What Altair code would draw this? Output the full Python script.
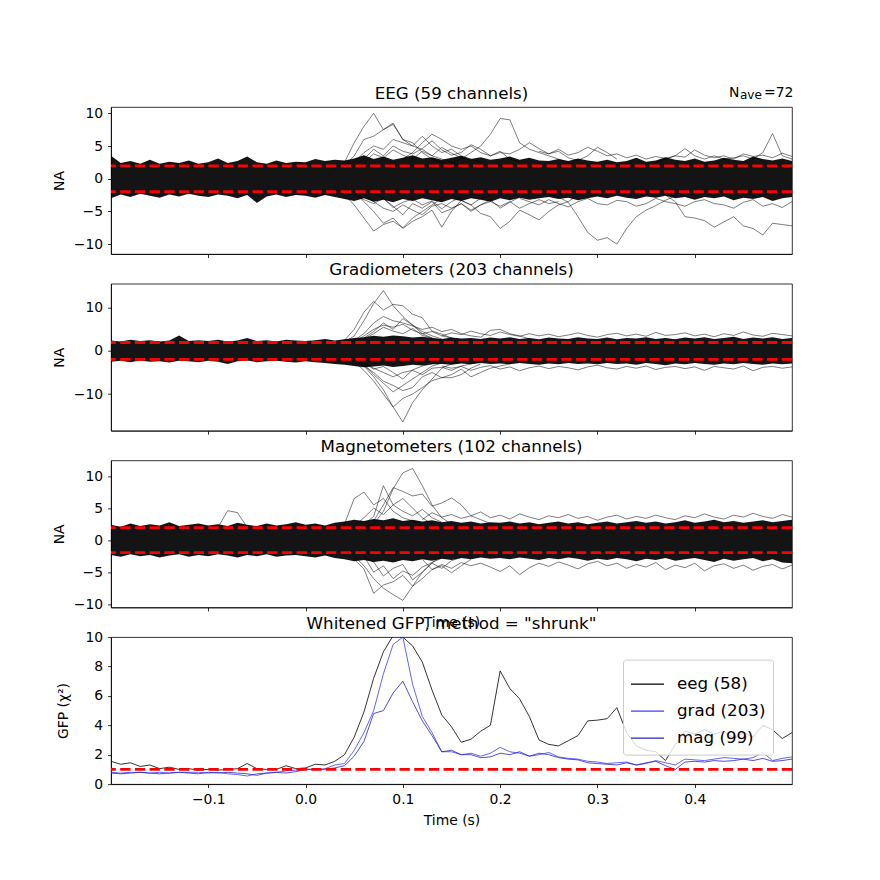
import altair as alt
import pandas as pd

# ---------------- data ----------------
TIMES = [round(-0.20 + 0.01 * i, 2) for i in range(71)]
X_TICKS = [-0.1, 0.0, 0.1, 0.2, 0.3, 0.4]
THRESH = [1.96, -1.96]

# dense core of the channel traces (upper / lower extent per time sample)
EEG_HI = [3.5, 2.4, 2.7, 2.3, 2.9, 2.3, 2.6, 2.4, 2.8, 2.3,
          2.5, 3.1, 2.4, 2.7, 3.4, 2.5, 2.3, 2.8, 2.4, 2.6,
          2.5, 3.0, 2.7, 2.9, 2.8, 3.1, 3.6, 3.0, 3.4, 2.9,
          3.2, 3.6, 3.1, 3.3, 2.9, 3.2, 3.5, 3.0, 3.3, 2.9,
          3.1, 3.4, 2.9, 3.2, 2.8, 2.7, 3.0, 2.7, 3.1, 2.8,
          2.6, 2.9, 2.5, 2.7, 3.2, 2.6, 2.8, 3.3, 2.9, 2.7,
          3.1, 2.6, 2.8, 3.2, 2.9, 2.7, 3.4, 3.0, 2.8, 3.1, 2.7]
EEG_LO = [-3.0, -2.4, -2.8, -2.3, -2.6, -2.9, -2.4, -2.7, -2.3, -2.6,
          -2.8, -2.4, -2.6, -3.0, -2.5, -3.7, -2.7, -2.4, -2.8, -2.5,
          -2.6, -2.9, -2.5, -2.8, -3.1, -3.4, -3.0, -3.5, -3.2, -3.6,
          -3.1, -3.4, -3.0, -3.3, -3.6, -3.1, -3.4, -3.0, -3.2, -3.5,
          -3.0, -3.3, -2.9, -3.2, -3.0, -2.8, -3.1, -2.9, -3.3, -3.0,
          -2.7, -3.0, -2.6, -2.9, -3.1, -2.7, -2.9, -2.6, -3.0, -2.8,
          -3.2, -2.8, -3.0, -2.7, -3.3, -2.9, -3.1, -2.8, -3.4, -3.0, -2.8]
GRAD_HI = [2.4, 2.2, 2.6, 2.3, 2.5, 2.2, 2.4, 3.6, 2.3, 2.5,
           2.3, 2.6, 2.2, 2.4, 3.0, 2.3, 2.5, 2.2, 2.6, 2.4,
           2.3, 2.5, 2.8, 2.4, 2.7, 3.0, 3.2, 3.5, 3.3, 3.6,
           3.4, 3.1, 3.3, 3.0, 2.8, 3.1, 2.9, 3.0, 2.8, 3.1,
           2.9, 3.2, 2.8, 3.0, 2.7, 3.1, 2.9, 2.8, 3.2, 2.9,
           2.8, 3.1, 2.7, 3.0, 2.9, 3.2, 2.8, 3.0, 2.7, 3.1,
           2.9, 3.2, 2.8, 3.0, 3.3, 2.8, 3.1, 2.9, 3.2, 2.8, 3.0]
GRAD_LO = [-2.5, -2.3, -2.6, -2.2, -2.5, -2.4, -2.7, -2.3, -2.4, -2.6,
           -2.3, -2.5, -3.0, -2.4, -2.2, -2.6, -2.4, -2.3, -2.5, -2.7,
           -2.4, -2.6, -2.8, -3.0, -3.2, -3.5, -3.8, -3.6, -3.4, -3.7,
           -3.5, -3.2, -3.4, -3.1, -3.0, -3.2, -2.9, -3.1, -2.8, -3.0,
           -2.9, -3.1, -2.8, -3.0, -3.2, -2.9, -3.1, -2.8, -3.0, -2.9,
           -3.1, -2.8, -3.0, -2.9, -3.2, -2.8, -3.0, -3.3, -2.9, -3.1,
           -2.8, -3.0, -3.2, -2.9, -3.1, -2.8, -3.0, -3.2, -2.9, -3.1, -2.9]
MAG_HI = [2.4, 2.1, 2.6, 2.2, 2.5, 2.3, 2.8, 2.2, 2.4, 2.6,
          2.3, 2.5, 2.2, 2.7, 2.4, 2.2, 2.6, 2.3, 2.5, 2.8,
          2.4, 2.6, 2.3, 2.7, 2.9, 3.2, 3.0, 3.3, 3.1, 3.4,
          3.0, 3.2, 2.9, 3.1, 2.8, 3.0, 2.7, 2.9, 2.6, 2.8,
          2.7, 2.9, 2.6, 2.8, 2.5, 2.7, 2.9, 2.6, 2.8, 2.5,
          2.7, 2.9, 2.6, 2.8, 3.0, 2.7, 2.9, 2.6, 2.8, 3.1,
          2.7, 2.9, 3.2, 2.8, 3.0, 2.7, 2.9, 3.1, 2.8, 3.0, 3.2]
MAG_LO = [-2.3, -2.6, -2.2, -2.5, -2.3, -2.7, -2.4, -2.2, -2.6, -2.3,
          -2.5, -2.2, -2.4, -2.7, -2.3, -2.5, -2.2, -2.6, -2.4, -2.3,
          -2.5, -2.7, -2.4, -2.8, -3.0, -3.3, -3.1, -3.4, -3.2, -3.5,
          -3.1, -3.3, -3.0, -3.2, -2.9, -3.1, -2.8, -3.0, -2.7, -2.9,
          -2.8, -3.0, -2.7, -2.9, -3.1, -2.8, -3.0, -2.7, -2.9, -3.2,
          -2.9, -3.1, -2.8, -3.0, -3.3, -2.9, -3.1, -2.8, -3.2, -3.0,
          -2.8, -3.1, -3.4, -2.9, -3.2, -3.0, -2.8, -3.3, -3.0, -3.5, -3.6]

# individual channels that leave the core: (first sample time, values every 10 ms)
EEG_TRACES = {
    "e1": (0.03, [1.5, 2.5, 5.5, 8.0, 10.0, 7.5, 8.5, 6.0, 5.0, 4.5, 3.5, 3.0, 2.5, 2.0]),
    "e2": (0.04, [2.0, 3.5, 6.0, 6.5, 7.5, 8.3, 6.0, 5.5, 4.0, 3.0, 2.5, 2.0]),
    "e3": (0.05, [2.5, 4.0, 5.0, 4.5, 6.0, 5.5, 5.0, 6.5, 5.0, 4.0, 4.5, 3.5, 3.0, 2.5]),
    "e4": (0.15, [2.5, 3.0, 4.0, 5.0, 6.8, 9.2, 9.0, 5.5, 4.5, 4.0, 3.5, 3.0, 2.5]),
    "e5": (0.10, [3.0, 4.0, 5.5, 6.8, 6.0, 5.0, 4.5, 5.0, 4.0, 3.5, 4.0, 3.8, 4.5, 5.5, 4.6,
                  3.8, 4.2, 3.2, 2.8, 3.5, 4.8, 4.0, 3.0]),
    "e6": (0.36, [2.5, 3.0, 3.5, 4.6, 3.5, 3.0, 3.5, 3.0, 3.2, 3.5, 3.0, 4.0, 6.9, 3.5, 3.0]),
    "e7": (0.03, [-1.5, -2.5, -4.0, -6.0, -8.0, -7.0, -6.5, -7.5, -6.0, -5.0, -4.0, -3.0, -2.0]),
    "e8": (0.05, [-2.0, -3.5, -5.0, -6.8, -6.0, -7.6, -6.5, -5.8, -4.8, -7.4, -5.0, -3.3, -4.0,
                  -3.0, -2.5]),
    "e9": (0.15, [-2.5, -3.3, -4.0, -5.3, -5.8, -7.6, -6.5, -4.8, -5.5, -6.3, -5.0, -4.0, -3.5, -2.5]),
    "e10": (0.06, [-2.5, -3.5, -4.5, -5.0, -4.0, -4.8, -5.5, -4.2, -3.8, -4.5, -3.8, -4.8, -4.0,
                   -3.5, -4.2, -3.5, -4.5, -3.8, -3.2, -3.8, -3.5]),
    "e11": (0.24, [-2.0, -2.4, -2.8, -3.6, -5.8, -8.2, -9.4, -9.0, -10.0, -7.6, -5.8, -4.8, -4.1,
                   -3.3, -2.6]),
    "e12": (0.37, [-2.5, -3.5, -5.8, -6.0, -6.4, -7.4, -6.6, -5.8, -7.2, -7.6, -8.6, -6.8, -7.0, -7.2]),
    "e13": (0.22, [-3.0, -3.5, -4.0, -3.2, -3.8, -4.3, -3.5, -3.0, -3.8, -4.0, -3.3, -3.5, -4.2,
                   -3.8, -3.0, -3.5, -3.8, -4.2, -3.5, -3.2, -3.8, -4.0, -4.5, -3.6, -3.2, -4.2,
                   -3.8, -4.4, -3.5]),
    "e14": (0.24, [4.2, 3.8, 4.5, 3.6, 4.0, 4.8, 4.2, 3.5, 3.8, 3.2, 3.6, 3.0, 3.4, 3.1, 3.5, 3.3,
                   4.4, 3.6, 3.2, 3.5, 3.0, 3.8, 3.4, 3.6, 3.2, 3.9, 3.4]),
    "e15": (0.05, [2.0, 3.0, 4.5, 3.5, 5.0, 4.2, 3.8, 4.6, 5.8, 4.4, 3.6, 4.0, 5.2, 4.5, 3.5, 4.2,
                   3.0, 2.5]),
    "e16": (0.07, [-2.0, -3.0, -4.2, -5.5, -3.8, -4.5, -3.5, -5.2, -4.6, -3.8, -5.0, -4.0, -3.2,
                   -4.5, -3.6, -2.8]),
    "e17": (0.06, [2.5, 3.8, 3.2, 4.4, 3.6, 3.0, 4.2, 3.5, 4.8, 3.9, 3.2, 2.8]),
    "e18": (0.05, [-2.5, -3.2, -3.8, -3.0, -4.4, -3.6, -3.1, -4.0, -3.4, -4.6, -3.5, -2.8]),
}
GRAD_TRACES = {
    "g1": (0.04, [2.0, 3.5, 7.0, 11.0, 14.0, 10.5, 8.0, 6.0, 4.0, 3.0, 2.5]),
    "g2": (0.04, [2.5, 5.0, 9.0, 11.5, 9.5, 10.8, 10.5, 8.5, 7.7, 4.6, 3.9, 3.0]),
    "g3": (0.05, [2.5, 4.0, 6.5, 8.0, 7.0, 6.5, 5.8, 5.0, 5.5, 4.5, 5.0, 4.0, 3.5, 3.2, 4.8, 5.0,
                  4.0, 3.5, 2.8]),
    "g4": (0.05, [2.0, 3.5, 5.0, 6.0, 5.5, 6.2, 4.8, 4.0, 4.5, 3.5, 3.0, 2.5]),
    "g5": (0.05, [-2.0, -3.5, -6.0, -9.0, -13.0, -16.5, -12.0, -9.0, -6.5, -4.0, -3.0, -2.5]),
    "g6": (0.05, [-2.5, -4.5, -7.0, -10.0, -13.0, -11.0, -10.0, -8.5, -6.9, -6.2, -6.2, -5.5,
                  -4.0, -3.0]),
    "g7": (0.05, [-2.0, -3.5, -5.0, -7.0, -8.0, -9.2, -8.5, -6.0, -5.0, -6.2, -5.5, -4.2, -6.0,
                  -5.0, -4.0, -3.5, -3.0]),
    "g8": (0.06, [-2.5, -4.0, -5.0, -6.0, -5.0, -4.5, -5.5, -4.0, -3.8, -4.5, -3.5, -3.0, -2.5]),
    "g9": (0.14, [3.5, 4.2, 3.8, 4.6, 4.0, 3.6, 4.4, 3.8, 3.4, 4.0, 3.5, 3.9, 3.3, 3.7, 4.2, 3.6,
                  3.2, 3.8, 4.1, 3.5, 3.9, 3.4, 4.3, 3.6, 3.8, 4.2, 3.5, 3.9, 3.3, 4.0, 3.6, 4.4,
                  3.7, 3.4, 4.1, 3.8, 3.5]),
    "g10": (0.14, [-3.5, -4.0, -3.6, -4.5, -3.8, -3.4, -4.2, -3.7, -4.6, -3.9, -3.5, -4.1, -3.6,
                   -3.9, -4.4, -3.7, -3.3, -3.9, -4.2, -3.6, -4.0, -3.5, -4.3, -3.8, -3.6, -4.1,
                   -3.7, -4.5, -3.6, -3.9, -4.2, -3.5, -4.6, -3.8, -3.6, -4.0, -3.7]),
    "g11": (0.06, [3.0, 4.5, 6.5, 5.0, 7.5, 6.0, 4.5, 3.5, 2.8]),
    "g12": (0.06, [-3.0, -5.5, -7.5, -9.5, -8.0, -6.5, -5.0, -3.5, -2.8]),
    "g13": (0.06, [2.8, 4.0, 5.5, 4.6, 4.0, 5.2, 3.6, 3.0]),
    "g14": (0.06, [-2.8, -4.2, -3.6, -5.0, -6.5, -4.4, -3.5, -3.0]),
}
MAG_TRACES = {
    "m1": (0.06, [2.0, 2.5, 4.5, 8.0, 10.5, 11.2, 8.5, 5.5, 3.5, 2.5]),
    "m2": (0.06, [2.5, 3.7, 8.5, 5.5, 6.5, 5.0, 3.5, 2.5]),
    "m3": (0.04, [2.5, 6.5, 7.5, 5.5, 6.5, 4.5, 3.5, 3.0, 2.5]),
    "m4": (0.07, [3.0, 5.5, 8.2, 7.6, 6.9, 7.2, 5.3, 5.8, 6.6, 5.5, 3.8, 3.2, 2.6]),
    "m5": (0.05, [-2.5, -4.0, -6.0, -7.5, -8.5, -9.4, -7.2, -5.0, -3.5, -2.5]),
    "m6": (0.05, [-3.0, -4.5, -8.3, -7.0, -6.5, -5.5, -7.2, -6.0, -4.6, -4.0, -5.1, -4.0, -3.0]),
    "m7": (0.12, [-3.0, -4.6, -3.8, -4.4, -3.5, -4.0, -3.6, -4.2, -4.9, -4.0, -5.4, -4.3, -3.6,
                  -4.1, -3.4, -3.9, -4.5, -3.7, -3.3, -4.0, -3.6, -4.4, -3.8, -4.2, -3.5, -4.6,
                  -3.9, -4.3, -3.6, -4.8, -4.0, -3.7, -4.4, -3.9, -4.7, -4.1, -3.8, -4.5, -3.9]),
    "m8": (0.12, [3.2, 4.3, 3.6, 4.0, 3.4, 3.8, 4.4, 3.5, 3.9, 3.3, 4.1, 3.6, 3.2, 3.8, 3.5, 4.0,
                  3.4, 3.7, 3.1, 3.6, 3.9, 3.3, 3.7, 3.4, 3.9, 3.5, 3.2, 3.8, 3.5, 4.1, 3.6, 3.3,
                  3.9, 3.6, 4.2, 3.7, 3.4, 4.0, 3.6]),
    "m9": (-0.09, [2.0, 4.6, 4.3, 2.0]),
    "m10": (0.05, [2.2, 3.5, 5.0, 4.0, 5.5, 4.5, 3.8, 4.8, 3.5, 2.8]),
    "m11": (0.06, [-2.5, -5.0, -4.0, -6.0, -4.8, -5.5, -4.2, -3.5, -2.8]),
    "m12": (0.06, [-2.6, -3.4, -5.6, -4.4, -3.8, -6.2, -5.0, -3.6, -4.4, -3.2, -2.7]),
}

# whitened global field power per channel type
GFP_LABELS = ["eeg (58)", "grad (203)", "mag (99)"]
GFP_EEG = [1.55, 1.35, 1.45, 1.20, 1.30, 1.05, 1.15, 1.00, 1.05, 0.95,
           1.00, 0.95, 1.00, 1.05, 1.40, 1.05, 1.00, 1.00, 1.25, 1.05,
           1.10, 1.35, 1.30, 1.55, 2.00, 3.20, 4.90, 7.20, 9.00, 10.10,
           10.00, 9.40, 8.30, 6.40, 4.70, 3.90, 2.85, 3.05, 3.60, 4.00,
           7.70, 6.50, 5.80, 4.60, 3.00, 2.70, 2.60, 2.95, 3.30, 4.30,
           4.35, 4.45, 5.20, 3.50, 2.60, 2.30, 2.20, 1.60, 2.70, 3.60,
           3.40, 3.70, 3.40, 3.60, 3.10, 3.50, 3.20, 4.00, 3.70, 3.10, 3.50]
GFP_GRAD = [0.80, 0.75, 0.80, 0.80, 0.75, 0.80, 0.75, 0.80, 0.80, 0.80,
            0.75, 0.80, 0.70, 0.65, 0.55, 0.70, 0.75, 0.80, 0.90, 0.95,
            1.05, 0.95, 1.05, 1.30, 1.40, 2.30, 3.50, 5.00, 7.50, 9.50,
            10.00, 6.80, 4.60, 3.50, 2.20, 2.20, 2.00, 2.10, 1.90, 2.10,
            2.50, 2.20, 2.10, 1.90, 2.00, 2.15, 1.85, 1.75, 1.70, 1.55,
            1.50, 1.40, 1.45, 1.50, 1.30, 1.40, 1.60, 1.45, 1.30, 1.70,
            1.65, 1.60, 1.70, 1.80, 1.75, 1.70, 1.80, 2.15, 1.60, 1.75, 1.85]
GFP_MAG = [0.75, 0.70, 0.75, 0.80, 0.75, 0.70, 0.75, 0.80, 0.75, 0.70,
           0.80, 0.75, 0.80, 0.75, 0.70, 0.60, 0.75, 0.80, 0.75, 0.85,
           1.00, 1.00, 1.00, 1.10, 1.25, 1.90, 2.90, 4.80, 5.00, 6.20,
           7.00, 5.60, 4.30, 3.30, 2.20, 2.30, 2.00, 2.00, 1.80, 1.85,
           2.10, 2.00, 2.20, 1.90, 2.10, 2.00, 1.80, 1.70, 1.65, 1.45,
           1.40, 1.35, 1.30, 1.45, 1.30, 1.45, 1.55, 1.25, 1.00, 1.50,
           1.55, 1.50, 1.60, 1.55, 1.60, 1.70, 1.60, 1.75, 1.55, 1.60, 1.70]
GFP_COLORS = ["#000000", "#3c3cff", "#2424c8"]

PANEL_TITLES = ["EEG (59 channels)", "Gradiometers (203 channels)",
                "Magnetometers (102 channels)", 'Whitened GFP, method = "shrunk"']

# ---------------- styling ----------------
W, H = 681, 147
FONT = "DejaVu Sans"
X_DOMAIN = [-0.2, 0.5]
LBL_1F = "replace(format(datum.value, '.1f'), '-', '\u2212')"
LBL_D = "replace(format(datum.value, 'd'), '-', '\u2212')"
RED = dict(color="#ff0000", strokeWidth=2.8, strokeDash=[10.3, 4.4])


def trace_frame(traces):
    rows = []
    for name, (t0, vals) in traces.items():
        for k, v in enumerate(vals):
            rows.append({"trace": name, "t": round(t0 + 0.01 * k, 3), "v": v})
    return pd.DataFrame(rows)


def x_axis(labels, title, pad=7):
    kw = dict(values=X_TICKS, labels=labels, titlePadding=pad)
    if labels:
        kw["labelExpr"] = LBL_1F
    if title:
        kw["title"] = title
    else:
        kw["title"] = None
    return alt.Axis(**kw)


def panel_title(text):
    return alt.Chart(pd.DataFrame({"s": [text]})).mark_text(
        align="center", baseline="alphabetic", font=FONT, fontSize=16.7, color="black"
    ).encode(text="s:N", x=alt.value(W / 2), y=alt.value(-8.3))


def sensor_panel(title, hi, lo, traces, ydom, yticks, xtitle=None, extra=None):
    xs = alt.Scale(domain=X_DOMAIN, nice=False, zero=False)
    ys = alt.Scale(domain=ydom, nice=False, zero=False)
    xa = x_axis(False, xtitle, pad=4)
    ya = alt.Axis(values=yticks, labelExpr=LBL_D, title="NA", titlePadding=7)
    env = pd.DataFrame({"t": TIMES, "lo": lo, "hi": hi})
    band = alt.Chart(env).mark_area(color="black", opacity=0.92).encode(
        x=alt.X("t:Q", scale=xs, axis=xa),
        y=alt.Y("lo:Q", scale=ys, axis=ya),
        y2="hi:Q",
    )
    lines = alt.Chart(trace_frame(traces)).mark_line(
        color="black", strokeWidth=0.6, opacity=0.85
    ).encode(
        x=alt.X("t:Q", scale=xs, axis=xa),
        y=alt.Y("v:Q", scale=ys, axis=ya),
        detail="trace:N",
    )
    rules = alt.Chart(pd.DataFrame({"thr": THRESH})).mark_rule(**RED).encode(
        y=alt.Y("thr:Q", scale=ys, axis=ya)
    )
    layers = [band, lines, rules, panel_title(title)]
    if extra:
        layers += extra
    return alt.layer(*layers).properties(width=W, height=H)


# N_ave annotation (top right of first panel)
nave = [
    alt.Chart(pd.DataFrame({"s": ["N"]})).mark_text(
        align="left", baseline="alphabetic", font=FONT, fontSize=13.9, color="black"
    ).encode(text="s:N", x=alt.value(618), y=alt.value(-10.4)),
    alt.Chart(pd.DataFrame({"s": ["ave"]})).mark_text(
        align="left", baseline="alphabetic", font=FONT, fontSize=12, color="black"
    ).encode(text="s:N", x=alt.value(629), y=alt.value(-7.8)),
    alt.Chart(pd.DataFrame({"s": ["=72"]})).mark_text(
        align="left", baseline="alphabetic", font=FONT, fontSize=13.9, color="black"
    ).encode(text="s:N", x=alt.value(653), y=alt.value(-10.4)),
]

p1 = sensor_panel(PANEL_TITLES[0], EEG_HI, EEG_LO, EEG_TRACES,
                  [-11.5, 10.96], [-10, -5, 0, 5, 10], extra=nave)
p2 = sensor_panel(PANEL_TITLES[1], GRAD_HI, GRAD_LO, GRAD_TRACES,
                  [-18.5, 15.6], [-10, 0, 10])
p3 = sensor_panel(PANEL_TITLES[2], MAG_HI, MAG_LO, MAG_TRACES,
                  [-10.5, 12.45], [-10, -5, 0, 5, 10], xtitle="Time (s)")

gfp_rows = []
for lab, vals in zip(GFP_LABELS, [GFP_EEG, GFP_GRAD, GFP_MAG]):
    for t, v in zip(TIMES, vals):
        gfp_rows.append({"t": t, "gfp": v, "kind": lab})
gfp_df = pd.DataFrame(gfp_rows)

xs4 = alt.Scale(domain=X_DOMAIN, nice=False, zero=False)
ys4 = alt.Scale(domain=[0, 10], nice=False, zero=False)
ya4 = alt.Axis(values=[0, 2, 4, 6, 8, 10], labelExpr=LBL_D, title="GFP (\u03c7\u00b2)",
               titlePadding=14)
gfp_lines = alt.Chart(gfp_df).mark_line(strokeWidth=0.8, clip=True).encode(
    x=alt.X("t:Q", scale=xs4, axis=x_axis(True, "Time (s)")),
    y=alt.Y("gfp:Q", scale=ys4, axis=ya4),
    color=alt.Color(
        "kind:N",
        scale=alt.Scale(domain=GFP_LABELS, range=GFP_COLORS),
        legend=alt.Legend(
            title=None, orient="none", legendX=512, legendY=552.6,
            symbolType="stroke", symbolSize=1089, symbolStrokeWidth=1.2,
            labelFontSize=16.7, labelFont=FONT, labelColor="black",
            fillColor="rgba(255,255,255,0.8)", strokeColor="#cccccc",
            cornerRadius=3, padding=7, rowPadding=-1.7, labelOffset=12, labelLimit=300,
        ),
    ),
    detail="kind:N",
)
gfp_rule = alt.Chart(pd.DataFrame({"one": [1.0]})).mark_rule(**RED).encode(
    y=alt.Y("one:Q", scale=ys4, axis=ya4)
)
p4 = alt.layer(gfp_lines, gfp_rule, panel_title(PANEL_TITLES[3])).properties(width=W, height=H)

chart = alt.vconcat(p1, p2, p3, p4, spacing=29.7, bounds="flush").properties(
    padding={"left": 43, "top": 77, "right": 10, "bottom": 10}
).configure_axis(
    labelFont=FONT, titleFont=FONT, labelFontSize=13.9, titleFontSize=13.9,
    labelColor="black", titleColor="black", titleFontWeight="normal",
    domainColor="black", tickColor="black", domainWidth=0.8, tickWidth=0.8,
    tickSize=3.5, labelPadding=4.9, grid=False,
).configure_view(stroke="black", strokeWidth=0.8)

chart.save("out.html", embed_options={"renderer": "svg", "actions": False})
